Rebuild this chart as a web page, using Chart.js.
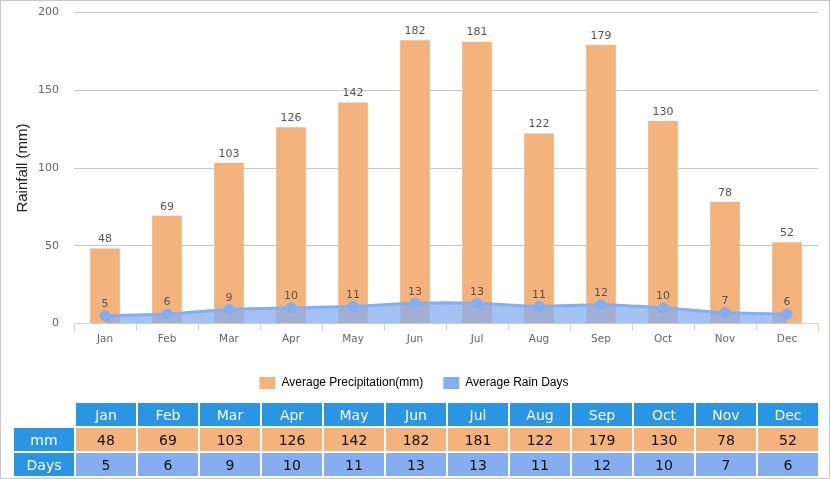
<!DOCTYPE html>
<html>
<head>
<meta charset="utf-8">
<script src="https://cdn.jsdelivr.net/npm/chart.js@4"></script>
<style>
  html, body { margin: 0; padding: 0; background: #fff; }
  #wrap { position: relative; width: 828px; height: 477px; border: 1px solid #c8c8c8; overflow: hidden; }
  #box { position: absolute; left: -1px; top: -10px; width: 830px; height: 418px; }
  table { position: absolute; left: 11px; top: 400px; border-collapse: separate; border-spacing: 2px;
          font-family: Verdana, "DejaVu Sans", sans-serif; font-size: 14px; }
  td { width: 60px; height: 23px; padding: 0; text-align: center; }
  .hd { background: #2a95e2; color: #fff; }
  .mm { background: #f4b27c; color: #111; }
  .dy { background: #84aef0; color: #111; }
</style>
</head>
<body>
<div id="wrap">
  <div id="box"><canvas id="myChart" width="830" height="418"></canvas></div>
  <table id="tbl"></table>
</div>
<script>
const months = ['Jan', 'Feb', 'Mar', 'Apr', 'May', 'Jun', 'Jul', 'Aug', 'Sep', 'Oct', 'Nov', 'Dec'];
const rainfall = [48, 69, 103, 126, 142, 182, 181, 122, 179, 130, 78, 52];
const rainDays = [5, 6, 9, 10, 11, 13, 13, 11, 12, 10, 7, 6];
const yTicks = [0, 50, 100, 150, 200];

// table under the chart
let html = '<tr><td></td>' + months.map(m => '<td class="hd">' + m + '</td>').join('') + '</tr>';
html += '<tr><td class="hd">mm</td>' + rainfall.map(v => '<td class="mm">' + v + '</td>').join('') + '</tr>';
html += '<tr><td class="hd">Days</td>' + rainDays.map(v => '<td class="dy">' + v + '</td>').join('') + '</tr>';
document.getElementById('tbl').innerHTML = html;

// value labels above bars and points
const valueLabels = {
    id: 'valueLabels',
    afterDatasetsDraw(chart) {
        const ctx = chart.ctx;
        ctx.save();
        ctx.font = '11px Verdana, "DejaVu Sans", sans-serif';
        ctx.fillStyle = '#555';
        ctx.textAlign = 'center';
        ctx.textBaseline = 'bottom';
        chart.data.datasets.forEach((ds, i) => {
            chart.getDatasetMeta(i).data.forEach((el, j) => {
                const off = ds.type === 'line' ? 6 : 4;
                ctx.fillText(ds.data[j], el.x, el.y - off);
            });
        });
        ctx.restore();
    }
};

const legendColors = ['#f4b27c', '#84aef0'];

const config = {
    data: {
        labels: months,
        datasets: [{
            type: 'line',
            label: 'Average Rain Days',
            data: rainDays,
            borderColor: '#84aef0',
            backgroundColor: 'rgba(132, 174, 240, 0.75)',
            pointBackgroundColor: '#84aef0',
            pointBorderColor: '#84aef0',
            pointRadius: 4,
            borderWidth: 3,
            tension: 0.3,
            fill: 'origin',
            order: 1
        },
        {
            type: 'bar',
            label: 'Average Precipitation(mm)',
            data: rainfall,
            backgroundColor: '#f4b27c',
            barThickness: 29,
            order: 2
        }]
    },
    options: {
        responsive: false,
        animation: false,
        layout: { padding: { left: 10, right: 12, top: 0, bottom: 10 } },
        plugins: {
            legend: {
                position: 'bottom',
                labels: {
                    boxWidth: 16, boxHeight: 12, padding: 20,
                    color: '#222',
                    font: { family: 'Arial, "Liberation Sans", sans-serif', size: 12 },
                    generateLabels(chart) {
                        return [1, 0].map((i, k) => ({
                            text: chart.data.datasets[i].label,
                            fillStyle: legendColors[k],
                            strokeStyle: legendColors[k],
                            lineWidth: 0,
                            datasetIndex: i
                        }));
                    }
                }
            },
            tooltip: { enabled: false }
        },
        scales: {
            x: {
                afterFit(scale) { scale.height += 8; },
                grid: { offset: true, drawOnChartArea: false, tickLength: 7, color: '#c6d4e6' },
                border: { color: '#c6d4e6' },
                ticks: { color: '#666', font: { family: 'Verdana, "DejaVu Sans", sans-serif', size: 10.5 }, padding: 3 }
            },
            y: {
                min: 0, max: 200,
                afterFit(scale) { scale.width = 64; },
                afterBuildTicks(scale) { scale.ticks = yTicks.map(v => ({ value: v })); },
                grid: { color: '#c8c8c8', drawTicks: false },
                border: { display: false },
                ticks: { color: '#666', font: { family: 'Verdana, "DejaVu Sans", sans-serif', size: 11 }, padding: 15 },
                title: {
                    display: true, text: 'Rainfall (mm)', color: '#222',
                    font: { family: 'Arial, "Liberation Sans", sans-serif', size: 15 }
                }
            }
        }
    },
    plugins: [valueLabels]
};

const myChart = new Chart(document.getElementById('myChart'), config);
</script>
</body>
</html>
